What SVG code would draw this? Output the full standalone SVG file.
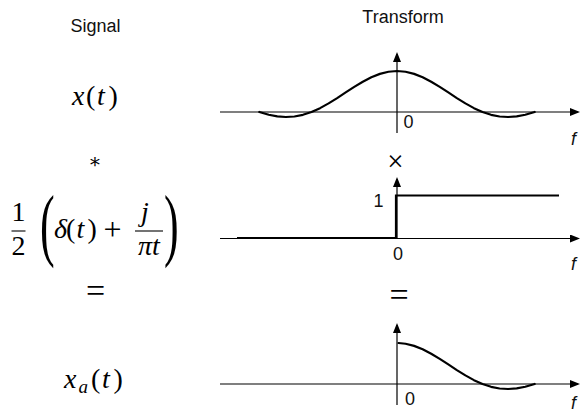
<svg xmlns="http://www.w3.org/2000/svg" width="584" height="414" viewBox="0 0 584 414">
<defs>
<marker id="arr" viewBox="0 0 10 8" markerWidth="10" markerHeight="8" refX="8" refY="4" orient="auto" markerUnits="userSpaceOnUse">
<path d="M0,0 L10,4 L0,8 Z" fill="#000"/>
</marker>
<style>
.sans{font-family:"Liberation Sans",Arial,sans-serif;font-size:18px;fill:#111}
.it{font-style:italic}
.math{font-family:"Liberation Serif","Times New Roman",serif;font-size:28px;fill:#000}
.mi{font-style:italic}
.axis{fill:none;stroke:#000;stroke-width:1.2}
.curve{fill:none;stroke:#000;stroke-width:2.2;stroke-linejoin:round;stroke-linecap:round}
.bar{stroke:#000;stroke-width:1.1}
</style>
</defs>
<rect width="584" height="414" fill="#fff"/>

<g id="headers">
<text class="sans" x="95.5" y="32" text-anchor="middle">Signal</text>
<text class="sans" x="403" y="22.5" text-anchor="middle">Transform</text>
</g>

<g id="signal-x">
<text class="math" y="105"><tspan class="mi" x="72">x</tspan><tspan x="86">(</tspan><tspan class="mi" x="97">t</tspan><tspan x="108.5">)</tspan></text>
</g>
<g id="op-conv">
<text x="95" y="168" text-anchor="middle" style="font-family:'DejaVu Serif',serif;font-size:20px">∗</text>
</g>
<g id="signal-h">
<text class="math" x="18.5" y="221" text-anchor="middle">1</text>
<line class="bar" x1="11.5" y1="231" x2="25.5" y2="231"/>
<text class="math" x="18.5" y="255" text-anchor="middle">2</text>
<text class="math" transform="translate(40,251) scale(0.55,1)" style="font-size:80px">(</text>
<text class="math" y="238"><tspan class="mi" x="54">δ</tspan><tspan x="66">(</tspan><tspan class="mi" x="76.5">t</tspan><tspan x="87.5">)</tspan></text>
<text class="math" x="112.5" y="240" text-anchor="middle" style="font-size:32px">+</text>
<text class="math mi" x="145" y="221" text-anchor="middle">j</text>
<line class="bar" x1="135" y1="231" x2="163" y2="231"/>
<text class="math mi" x="149" y="255" text-anchor="middle">πt</text>
<text class="math" transform="translate(164,251) scale(0.55,1)" style="font-size:80px">)</text>
</g>
<g id="op-eq-left">
<text class="math" x="95.5" y="302" text-anchor="middle" style="font-size:34px">=</text>
</g>
<g id="signal-xa">
<text class="math" y="388"><tspan class="mi" x="64">x</tspan><tspan class="mi" x="78.5" y="393" style="font-size:19px">a</tspan><tspan x="91" y="388">(</tspan><tspan class="mi" x="102">t</tspan><tspan x="113.5">)</tspan></text>
</g>

<g id="connectors">
<path class="axis" d="M220,112 H578" marker-end="url(#arr)"/>
<path class="axis" d="M397,133 V54" marker-end="url(#arr)"/>
<path class="axis" d="M220,238.5 H578" marker-end="url(#arr)"/>
<path class="axis" d="M397,238.5 V179" marker-end="url(#arr)"/>
<path class="axis" d="M220,384 H578" marker-end="url(#arr)"/>
<path class="axis" d="M397,405 V325" marker-end="url(#arr)"/>
</g>

<g id="transform-x">
<polyline class="curve" points="259.34,112 268.75,114.75 277.3,116.38 285.85,117.0 294.4,116.51 302.95,114.83 311.5,112 320.05,108.13 328.6,103.40 337.15,98.06 345.7,92.43 354.25,86.86 362.8,81.69 371.35,77.26 379.9,73.86 388.45,71.73 397,71 405.55,71.73 414.1,73.86 422.65,77.26 431.2,81.69 439.75,86.86 448.3,92.43 456.85,98.06 465.4,103.40 473.95,108.13 482.5,112 491.05,114.83 499.6,116.51 508.15,117.0 516.7,116.38 525.25,114.75 534.66,112"/>
<text class="sans" x="403.5" y="128">0</text>
<text class="sans it" x="571" y="145">f</text>
</g>
<g id="op-mult">
<text class="math" x="395.5" y="171" text-anchor="middle" style="font-size:29px">×</text>
</g>
<g id="transform-step">
<path class="curve" style="stroke-linecap:butt;stroke-linejoin:miter" d="M237,238 H396 V195.5 H559"/>
<text class="sans" x="383.5" y="207" text-anchor="end">1</text>
<text class="sans" x="398" y="260" text-anchor="middle">0</text>
<text class="sans it" x="571" y="270">f</text>
</g>
<g id="op-eq-right">
<text class="math" x="399" y="306" text-anchor="middle" style="font-size:34px">=</text>
</g>
<g id="transform-xa">
<polyline class="curve" points="398.5,343 405.55,343.73 414.1,345.86 422.65,349.26 431.2,353.69 439.75,358.86 448.3,364.43 456.85,370.06 465.4,375.40 473.95,380.13 482.5,384 491.05,386.83 499.6,388.51 508.15,389.0 516.7,388.38 525.25,386.75 534.66,384"/>
<text class="sans" x="405" y="405">0</text>
<text class="sans it" x="571" y="409">f</text>
</g>
</svg>
